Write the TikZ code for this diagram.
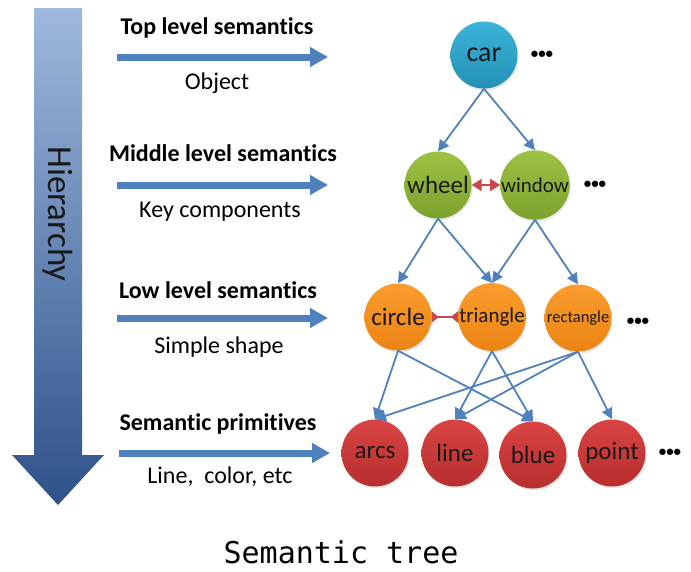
\documentclass[tikz,border=0pt]{standalone}
\usepackage{fontspec}
\setmainfont{Carlito}[Ligatures=NoCommon]
\newfontfamily\treefont{DejaVu Sans Mono}
\usetikzlibrary{arrows.meta,shadows,positioning}

\definecolor{edgeblue}{HTML}{4F81BD}
\definecolor{linkred}{HTML}{C9484A}
\definecolor{cartop}{HTML}{3BB3D8}
\definecolor{carbot}{HTML}{2590B6}
\definecolor{greentop}{HTML}{9DC243}
\definecolor{greenbot}{HTML}{7CA22F}
\definecolor{orangetop}{HTML}{FA9C2C}
\definecolor{orangebot}{HTML}{EC8414}
\definecolor{redtop}{HTML}{D94444}
\definecolor{redbot}{HTML}{B82E2E}
\definecolor{hiertop}{HTML}{9DB9DD}
\definecolor{hierbot}{HTML}{2E5189}

\tikzset{
  sem/.style = {circle, minimum size=67pt, inner sep=0pt, text=black!90,
    font=\fontsize{25}{25}\selectfont,
    drop shadow={opacity=0.18, shadow xshift=1pt, shadow yshift=-2pt}},
  objnode/.style = {sem, top color=cartop, bottom color=carbot},
  partnode/.style = {sem, top color=greentop, bottom color=greenbot},
  shapenode/.style = {sem, top color=orangetop, bottom color=orangebot},
  primnode/.style = {sem, top color=redtop, bottom color=redbot},
  dots/.style = {font=\fontsize{15}{15}\selectfont\bfseries, inner sep=1pt},
  edge/.style = {draw=edgeblue, line width=1.8pt, -{Triangle[length=11pt,width=11pt]}},
  link/.style = {draw=linkred, line width=2.2pt},
  levelarrow/.style = {draw=edgeblue, line width=7pt, -{Triangle[length=18pt,width=19pt]}},
  head/.style = {font=\fontsize{24}{24}\selectfont\bfseries},
  sub/.style = {font=\fontsize{24}{24}\selectfont}
}

\begin{document}
\begin{tikzpicture}[x=1pt, y=-1pt, node distance=58pt]
  \useasboundingbox (0,0) rectangle (691,571);

  % hierarchy arrow
  \shade[top color=hiertop, bottom color=hierbot]
    (34,8) -- (82,8) -- (82,455) -- (104,455) -- (58,505) -- (12,455) -- (34,455) -- cycle;
  \node (hier) [rotate=-90, font=\fontsize{35}{35}\selectfont, text=black!90] at (58,214) {Hierarchy};

  % level labels
  \node (toplab) [head] at (217,28) {Top level semantics};
  \node (topsub) [sub] at (217,83) {Object};
  \node (midlab) [head] at (223,153) {Middle level semantics};
  \node (midsub) [sub] at (220,212) {Key components};
  \node (lowlab) [head] at (218,290) {Low level semantics};
  \node (lowsub) [sub] at (219,347) {Simple shape};
  \node (primlab) [head] at (218,424) {Semantic primitives};
  \node (primsub) [sub] at (220,477) {Line,\ \ color, etc};

  \coordinate (tops) at (117,57);   \coordinate (tope) at (328,57);
  \coordinate (mids) at (117,185);  \coordinate (mide) at (328,185);
  \coordinate (lows) at (117,318);  \coordinate (lowe) at (328,318);
  \coordinate (prims) at (119,453); \coordinate (prime) at (330,453);
  \draw[levelarrow] (tops) -- (tope);
  \draw[levelarrow] (mids) -- (mide);
  \draw[levelarrow] (lows) -- (lowe);
  \draw[levelarrow] (prims) -- (prime);

  % semantic tree
  \node (car) [objnode, font=\fontsize{28}{28}\selectfont] at (484,55) {car};
  \node (wheel) [partnode] at (438,185) {wheel};
  \node (window) [partnode, font=\fontsize{21}{21}\selectfont] at (535,185) {window};
  \node (circ) [shapenode] at (398,317) {circle};
  \node (tri) [shapenode, font=\fontsize{21}{21}\selectfont] at (492,317) {triangle};
  \node (rect) [shapenode, font=\fontsize{16.5}{16.5}\selectfont] at (578,318) {rectangle};
  \node (arcs) [primnode] at (375,453) {arcs};
  \node (line) [primnode] at (455,453) {line};
  \node (blue) [primnode] at (533,455) {blue};
  \node (point) [primnode] at (612,453) {point};

  \node [dots, right of = car] {•••};
  \node [dots, right of = window, node distance=60pt] {•••};
  \node [dots, right of = rect, node distance=60pt, yshift=-4pt] {•••};
  \node [dots, right of = point] {•••};

  \draw[edge] (car.south) -- (wheel.north);
  \draw[edge] (car.south) -- (window.north);
  \draw[edge] (wheel.south) -- (circ.north);
  \draw[edge] (wheel.south) -- (tri.north);
  \draw[edge] (window.south) -- (tri.north);
  \draw[edge] (window.south) -- (rect.north);
  \draw[edge] (circ.south) -- (arcs.north);
  \draw[edge] (circ.south) -- (blue.north);
  \draw[edge] (tri.south) -- (line.north);
  \draw[edge] (tri.south) -- (blue.north);
  \draw[edge] (rect.south) -- (arcs.north);
  \draw[edge] (rect.south) -- (line.north);
  \draw[edge] (rect.south) -- (point.north);

  \draw[link, {Triangle[length=10pt,width=12pt]}-{Triangle[length=10pt,width=12pt]}] (wheel.east) -- (window.west);
  \draw[link, {Triangle[length=7pt,width=11pt,reversed]}-{Triangle[length=7pt,width=11pt,reversed]}] (circ.east) -- (tri.west);

  \node (title) [font=\treefont\fontsize{30}{30}\selectfont] at (341,552) {Semantic tree};
\end{tikzpicture}
\end{document}
